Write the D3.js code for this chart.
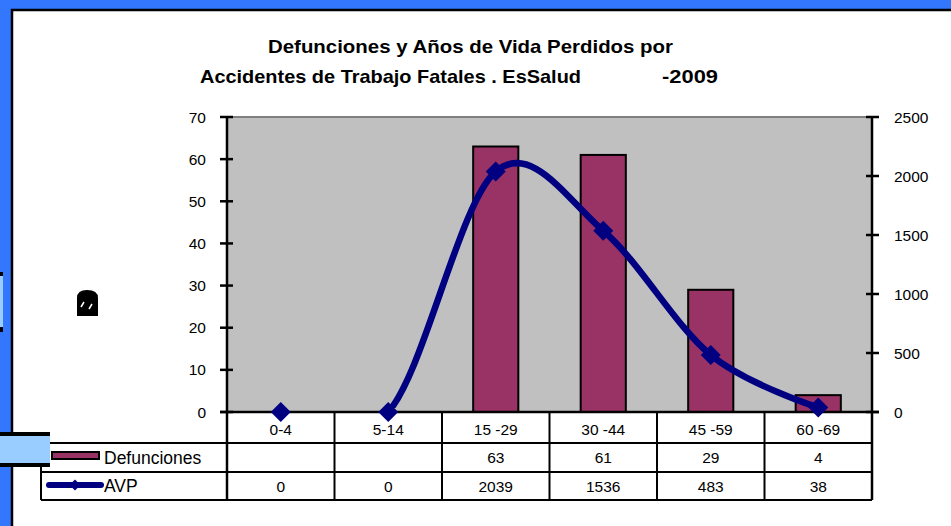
<!DOCTYPE html>
<html>
<head>
<meta charset="utf-8">
<script src="https://cdn.jsdelivr.net/npm/d3@7"></script>
<style>
  body { margin: 0; padding: 0; background: #3377ff; overflow: hidden; }
  svg { display: block; }
  text { font-family: "Liberation Sans", Arial, sans-serif; fill: #000; }
</style>
</head>
<body>
<div id="divChart"></div>
<script>
// datos del grafico
var categories = ["0-4", "5-14", "15 -29", "30 -44", "45 -59", "60 -69"];
var defunciones = [null, null, 63, 61, 29, 4];
var avp = [0, 0, 2039, 1536, 483, 38];
var leftTicks = [0, 10, 20, 30, 40, 50, 60, 70];
var rightTicks = [0, 500, 1000, 1500, 2000, 2500];
var seriesNames = ["Defunciones", "AVP"];
var titleLine1 = "Defunciones y Años  de Vida Perdidos por";
var titleLine2 = "Accidentes de Trabajo Fatales . EsSalud";
var titleYear = "-2009";

function init()
{
    var width = 951;
    var height = 526;

    var svg = d3.select("#divChart").append("svg")
        .attr("width", width)
        .attr("height", height);

    // fondo azul y panel blanco
    svg.append("rect").attr("x", 0).attr("y", 0).attr("width", width).attr("height", height)
        .style("fill", "#3377ff");
    svg.append("rect").attr("x", 12).attr("y", 10).attr("width", width).attr("height", height)
        .style("fill", "#fff").style("stroke", "#000").style("stroke-width", 2.5);

    // pequeño marcador a la izquierda
    svg.append("rect").attr("x", 0).attr("y", 272).attr("width", 3).attr("height", 60)
        .style("fill", "#99ccff");
    svg.append("rect").attr("x", 0).attr("y", 272).attr("width", 3).attr("height", 4).style("fill", "#000");
    svg.append("rect").attr("x", 0).attr("y", 327).attr("width", 3).attr("height", 5).style("fill", "#000");

    // area del grafico
    var left = 227, right = 872, top = 117, bottom = 412;

    var scaleX = d3.scaleBand()
        .domain(categories)
        .range([left, right]);

    var scaleYL = d3.scaleLinear()
        .domain([0, 70])
        .range([bottom, top]);

    var scaleYR = d3.scaleLinear()
        .domain([0, 2500])
        .range([bottom, top]);

    svg.append("rect")
        .attr("x", left).attr("y", top)
        .attr("width", right - left).attr("height", bottom - top)
        .style("fill", "#c0c0c0");
    svg.append("line")
        .attr("x1", left).attr("x2", right).attr("y1", top).attr("y2", top)
        .style("stroke", "#808080").style("stroke-width", 2);

    // titulo
    var title = svg.append("g").style("font-weight", "bold");
    title.append("text")
        .attr("x", 268).attr("y", 53)
        .attr("textLength", 405).attr("lengthAdjust", "spacingAndGlyphs")
        .style("font-size", "19px")
        .text(titleLine1);
    title.append("text")
        .attr("x", 200).attr("y", 83)
        .attr("textLength", 381).attr("lengthAdjust", "spacingAndGlyphs")
        .style("font-size", "19px")
        .text(titleLine2);
    title.append("text")
        .attr("x", 662).attr("y", 83)
        .attr("textLength", 56).attr("lengthAdjust", "spacingAndGlyphs")
        .style("font-size", "19px")
        .text(titleYear);

    // barras de defunciones
    var barW = scaleX.bandwidth() * 0.42;
    svg.append("g").selectAll("rect")
        .data(categories.map(function(c, i){ return {c: c, v: defunciones[i]}; })
              .filter(function(d){ return d.v != null; }))
        .enter().append("rect")
        .attr("x", function(d){ return scaleX(d.c) + (scaleX.bandwidth() - barW) / 2; })
        .attr("y", function(d){ return scaleYL(d.v); })
        .attr("width", barW)
        .attr("height", function(d){ return bottom - scaleYL(d.v); })
        .style("fill", "#993366")
        .style("stroke", "#000")
        .style("stroke-width", 2);

    // linea suavizada AVP (recortada al area del grafico)
    svg.append("clipPath").attr("id", "plotClip")
        .append("rect")
        .attr("x", left).attr("y", top)
        .attr("width", right - left).attr("height", bottom - top - 4);

    var points = categories.map(function(c, i){
        return {x: scaleX(c) + scaleX.bandwidth() / 2, y: scaleYR(avp[i])};
    });

    var line = d3.line()
        .x(function(d){ return d.x; })
        .y(function(d){ return d.y; })
        .curve(d3.curveCardinal.tension(0));

    svg.append("path")
        .attr("d", line(points))
        .attr("clip-path", "url(#plotClip)")
        .style("fill", "none")
        .style("stroke", "#000080")
        .style("stroke-width", 6.5)
        .style("stroke-linejoin", "round");

    // ejes
    var axisL = svg.append("g").attr("transform", "translate(" + left + ",0)");
    axisL.append("line").attr("x1", 0).attr("x2", 0).attr("y1", top).attr("y2", bottom + 88)
        .style("stroke", "#000").style("stroke-width", 2.5);
    var axisR = svg.append("g").attr("transform", "translate(" + right + ",0)");
    axisR.append("line").attr("x1", 0).attr("x2", 0).attr("y1", top).attr("y2", bottom + 88)
        .style("stroke", "#000").style("stroke-width", 2.5);

    axisL.selectAll("g.tick").data(leftTicks).enter().append("g")
        .attr("class", "tick")
        .attr("transform", function(d){ return "translate(0," + scaleYL(d) + ")"; })
        .each(function(d){
            var g = d3.select(this);
            g.append("line").attr("x1", -7).attr("x2", 6).style("stroke", "#000").style("stroke-width", 2.5);
            g.append("text").attr("x", -21).attr("dy", "0.36em").attr("text-anchor", "end")
                .style("font-size", "15.5px").text(d);
        });

    axisR.selectAll("g.tick").data(rightTicks).enter().append("g")
        .attr("class", "tick")
        .attr("transform", function(d){ return "translate(0," + scaleYR(d) + ")"; })
        .each(function(d){
            var g = d3.select(this);
            g.append("line").attr("x1", -6).attr("x2", 7).style("stroke", "#000").style("stroke-width", 2.5);
            g.append("text").attr("x", 22).attr("dy", "0.36em")
                .style("font-size", "15.5px").text(d);
        });

    // eje X
    svg.append("line").attr("x1", left - 7).attr("x2", right + 7).attr("y1", bottom).attr("y2", bottom)
        .style("stroke", "#000").style("stroke-width", 2.5);

    // marcadores diamante
    var diamond = d3.symbol().type(d3.symbolSquare).size(200);
    svg.append("g").selectAll("path")
        .data(points)
        .enter().append("path")
        .attr("d", diamond)
        .attr("transform", function(d){ return "translate(" + d.x + "," + d.y + ") rotate(45)"; })
        .style("fill", "#000080");

    // tabla de datos
    var rowTop = bottom, row1 = 443, row2 = 472, row3 = 500, tableLeft = 41;
    var tbl = svg.append("g").style("stroke", "#000").style("stroke-width", 2);
    tbl.append("line").attr("x1", tableLeft).attr("x2", right).attr("y1", row1).attr("y2", row1);
    tbl.append("line").attr("x1", tableLeft).attr("x2", right).attr("y1", row2).attr("y2", row2);
    tbl.append("line").attr("x1", tableLeft).attr("x2", right).attr("y1", row3).attr("y2", row3);
    tbl.append("line").attr("x1", tableLeft).attr("x2", tableLeft).attr("y1", row1).attr("y2", row3);
    tbl.selectAll("line.v").data(categories.slice(1)).enter().append("line")
        .attr("class", "v")
        .attr("x1", function(d){ return scaleX(d); })
        .attr("x2", function(d){ return scaleX(d); })
        .attr("y1", rowTop).attr("y2", row3);

    var cx = function(c){ return scaleX(c) + scaleX.bandwidth() / 2; };
    svg.append("g").selectAll("text").data(categories).enter().append("text")
        .attr("x", cx).attr("y", (rowTop + row1) / 2 + 2).attr("dy", "0.36em")
        .attr("text-anchor", "middle").style("font-size", "15.5px")
        .text(function(d){ return d; });
    svg.append("g").selectAll("text").data(categories).enter().append("text")
        .attr("x", cx).attr("y", (row1 + row2) / 2).attr("dy", "0.36em")
        .attr("text-anchor", "middle").style("font-size", "15.5px")
        .text(function(d, i){ return defunciones[i] == null ? "" : defunciones[i]; });
    svg.append("g").selectAll("text").data(categories).enter().append("text")
        .attr("x", cx).attr("y", (row2 + row3) / 2).attr("dy", "0.36em")
        .attr("text-anchor", "middle").style("font-size", "15.5px")
        .text(function(d, i){ return avp[i]; });

    // leyenda dentro de la tabla
    svg.append("rect").attr("x", 52).attr("y", 452).attr("width", 47).attr("height", 7)
        .style("fill", "#993366").style("stroke", "#000").style("stroke-width", 2);
    svg.append("text").attr("x", 104).attr("y", (row1 + row2) / 2).attr("dy", "0.36em")
        .style("font-size", "17.5px").text(seriesNames[0]);
    svg.append("line").attr("x1", 49).attr("x2", 101).attr("y1", 485).attr("y2", 485)
        .style("stroke", "#000080").style("stroke-width", 6).style("stroke-linecap", "round");
    svg.append("path").attr("d", d3.symbol().type(d3.symbolSquare).size(60))
        .attr("transform", "translate(75,485) rotate(45)").style("fill", "#000080");
    svg.append("text").attr("x", 104).attr("y", (row2 + row3) / 2).attr("dy", "0.36em")
        .style("font-size", "17.5px").text(seriesNames[1]);

    // recuadro celeste a la izquierda
    svg.append("rect").attr("x", 0).attr("y", 434).attr("width", 50).attr("height", 31)
        .style("fill", "#99ccff");
    svg.append("rect").attr("x", 0).attr("y", 432).attr("width", 50).attr("height", 4).style("fill", "#000");
    svg.append("rect").attr("x", 0).attr("y", 463).attr("width", 50).attr("height", 4).style("fill", "#000");

    // glifo del titulo del eje Y (ilegible en el original)
    var glyph = svg.append("g");
    glyph.append("path")
        .attr("d", "M77,316 L77,298 Q77,290 87,290 Q98,290 98,298 L98,316 Z")
        .style("fill", "#000");
    glyph.append("path").attr("d", "M81,307 L84,302").style("stroke", "#fff").style("stroke-width", 1.5);
    glyph.append("path").attr("d", "M89,309 L92,304").style("stroke", "#fff").style("stroke-width", 1.5);
}

window.onload = init;
</script>
</body>
</html>
